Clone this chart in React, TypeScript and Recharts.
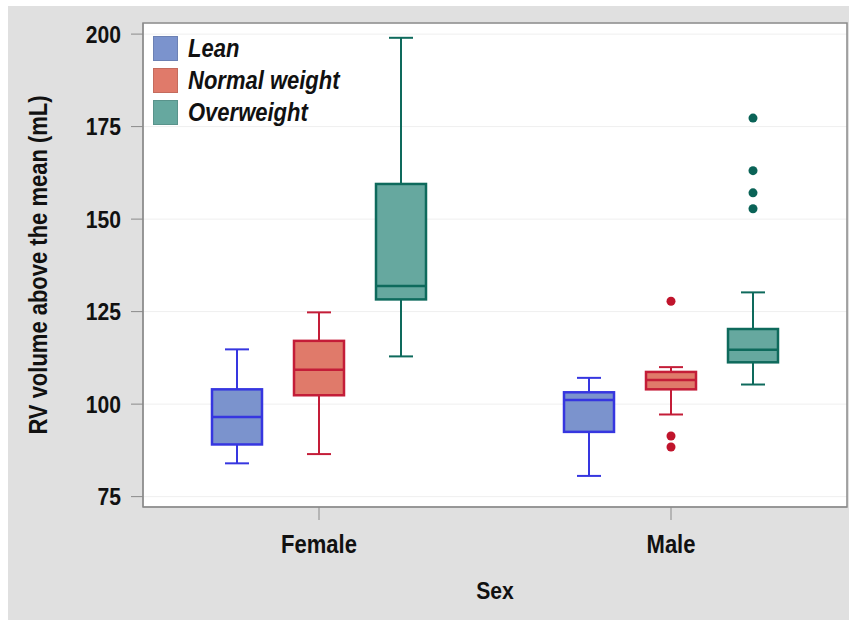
import React from "react";
import { ComposedChart, Bar, XAxis, YAxis, CartesianGrid, Legend, ReferenceArea, Label } from "recharts";

// Box plot: RV volume above the mean, by sex and weight group

const sexes = ["Female", "Male"];
const groupNames = ["Lean", "Normal weight", "Overweight"];

const leanMin = [84.0, 80.6];
const leanQ1 = [89.1, 92.5];
const leanMedian = [96.5, 101.1];
const leanQ3 = [104.0, 103.2];
const leanMax = [114.8, 107.1];
const leanOutliers: number[][] = [[], []];

const normalMin = [86.5, 97.2];
const normalQ1 = [102.4, 104.0];
const normalMedian = [109.3, 106.5];
const normalQ3 = [117.1, 108.7];
const normalMax = [124.8, 110.0];
const normalOutliers: number[][] = [[], [127.8, 91.4, 88.4]];

const overMin = [112.9, 105.3];
const overQ1 = [128.3, 111.3];
const overMedian = [131.9, 114.7];
const overQ3 = [159.5, 120.3];
const overMax = [199.0, 130.2];
const overOutliers: number[][] = [[], [177.3, 163.1, 157.1, 152.8]];

const yTicks = [75, 100, 125, 150, 175, 200];
const yDomain: [number, number] = [72.2, 203];

const stats = (min: number[], q1: number[], med: number[], q3: number[], max: number[], out: number[][], i: number) => ({
  min: min[i], q1: q1[i], median: med[i], q3: q3[i], max: max[i], outliers: out[i],
});

const data = sexes.map((sex, i) => ({
  sex,
  lean: [leanQ1[i], leanQ3[i]],
  leanStats: stats(leanMin, leanQ1, leanMedian, leanQ3, leanMax, leanOutliers, i),
  normal: [normalQ1[i], normalQ3[i]],
  normalStats: stats(normalMin, normalQ1, normalMedian, normalQ3, normalMax, normalOutliers, i),
  over: [overQ1[i], overQ3[i]],
  overStats: stats(overMin, overQ1, overMedian, overQ3, overMax, overOutliers, i),
}));

const font = '"Liberation Sans", Arial, sans-serif';
const axisGray = "#8a8a8a";
const textColor = "#111";
// the reference text looks condensed, so squeeze it a little
const squeeze = 0.88;
const textStyle = { fontFamily: font, fontWeight: "bold" as const, fill: textColor };

// box + whiskers + outliers, drawn from the bar's own [q1, q3] rectangle
function makeBoxShape(key: string, stroke: string, dotColor: string) {
  return (props: any) => {
    const { x, y, width, height, payload, fill } = props;
    const s = payload[key + "Stats"];
    const top = Math.min(y, y + height);
    const h = Math.abs(height);
    const k = h / (s.q3 - s.q1);
    const py = (v: number) => top + (s.q3 - v) * k;
    const cx = x + width / 2;
    const cap = width * 0.24;
    return (
      <g>
        <line x1={cx} x2={cx} y1={py(s.max)} y2={top} stroke={stroke} strokeWidth={2} />
        <line x1={cx} x2={cx} y1={top + h} y2={py(s.min)} stroke={stroke} strokeWidth={2} />
        <line x1={cx - cap} x2={cx + cap} y1={py(s.max)} y2={py(s.max)} stroke={stroke} strokeWidth={2} />
        <line x1={cx - cap} x2={cx + cap} y1={py(s.min)} y2={py(s.min)} stroke={stroke} strokeWidth={2} />
        <rect x={x} y={top} width={width} height={h} fill={fill} stroke={stroke} strokeWidth={2.5} />
        <line x1={x} x2={x + width} y1={py(s.median)} y2={py(s.median)} stroke={stroke} strokeWidth={2.5} />
        {s.outliers.map((v: number, j: number) => (
          <circle key={j} cx={cx} cy={py(v)} r={4.5} fill={dotColor} />
        ))}
      </g>
    );
  };
}

const XTick = (props: any) => (
  <g transform={`translate(${props.x},${props.y}) scale(${squeeze},1)`}>
    <text textAnchor="middle" dy="0.71em" fontSize={25} {...textStyle}>
      {props.payload.value}
    </text>
  </g>
);

const YTick = (props: any) => (
  <g transform={`translate(${props.x},${props.y}) scale(${squeeze},1)`}>
    <text textAnchor="end" dy="0.36em" fontSize={24} {...textStyle}>
      {props.payload.value}
    </text>
  </g>
);

const XTitle = (props: any) => {
  const vb = props.viewBox;
  return (
    <g transform={`translate(${vb.x + vb.width / 2},${vb.y + vb.height - 8}) scale(${squeeze},1)`}>
      <text textAnchor="middle" fontSize={24} {...textStyle}>Sex</text>
    </g>
  );
};

const YTitle = (props: any) => {
  const vb = props.viewBox;
  return (
    <g transform={`translate(${vb.x + 20},${vb.y + vb.height / 2}) rotate(-90) scale(${squeeze},1)`}>
      <text textAnchor="middle" dy="0.36em" fontSize={25} {...textStyle}>
        RV volume above the mean (mL)
      </text>
    </g>
  );
};

const renderLegend = (props: any) => (
  <div>
    {(props.payload || []).map((item: any) => (
      <div key={item.value} style={{ display: "flex", alignItems: "center", height: 32 }}>
        <span
          style={{
            display: "inline-block",
            width: 23,
            height: 23,
            background: item.color,
            border: "1px solid rgba(0,0,0,0.12)",
          }}
        />
        <span
          style={{
            display: "inline-block",
            marginLeft: 10,
            fontFamily: font,
            fontWeight: "bold",
            fontStyle: "italic",
            fontSize: 25,
            color: textColor,
            whiteSpace: "nowrap",
            transform: `scaleX(${squeeze})`,
            transformOrigin: "left center",
          }}
        >
          {item.value}
        </span>
      </div>
    ))}
  </div>
);

export default function App() {
  return (
    <div style={{ position: "absolute", left: 8, top: 6, width: 841, height: 614, background: "#e0e0e0" }}>
      <ComposedChart
        width={841}
        height={614}
        data={data}
        margin={{ top: 17, right: 2, bottom: 13, left: 10 }}
        barGap={32}
        barSize={50}
      >
        <CartesianGrid vertical={false} stroke="#efefef" fill="#ffffff" />
        <XAxis dataKey="sex" height={100} tickSize={13} tickMargin={15} stroke={axisGray} tick={<XTick />}>
          <Label content={<XTitle />} />
        </XAxis>
        <YAxis
          type="number"
          domain={yDomain}
          ticks={yTicks}
          allowDataOverflow
          width={125}
          tickSize={12}
          tickMargin={10}
          stroke={axisGray}
          tick={<YTick />}
        >
          <Label content={<YTitle />} />
        </YAxis>
        <ReferenceArea y1={yDomain[0]} y2={yDomain[1]} fill="none" stroke={axisGray} strokeWidth={1.5} />
        <Legend
          layout="horizontal"
          align="center"
          verticalAlign="middle"
          content={renderLegend}
          wrapperStyle={{ left: 145, top: 26, width: "auto" }}
        />
        <Bar
          dataKey="lean"
          name={groupNames[0]}
          fill="#7b93cd"
          shape={makeBoxShape("lean", "#3636e0", "#3636e0")}
          isAnimationActive={false}
        />
        <Bar
          dataKey="normal"
          name={groupNames[1]}
          fill="#e07a6a"
          shape={makeBoxShape("normal", "#c41d38", "#c0142c")}
          isAnimationActive={false}
        />
        <Bar
          dataKey="over"
          name={groupNames[2]}
          fill="#66a89f"
          shape={makeBoxShape("over", "#0e6a5c", "#0a6357")}
          isAnimationActive={false}
        />
      </ComposedChart>
    </div>
  );
}
